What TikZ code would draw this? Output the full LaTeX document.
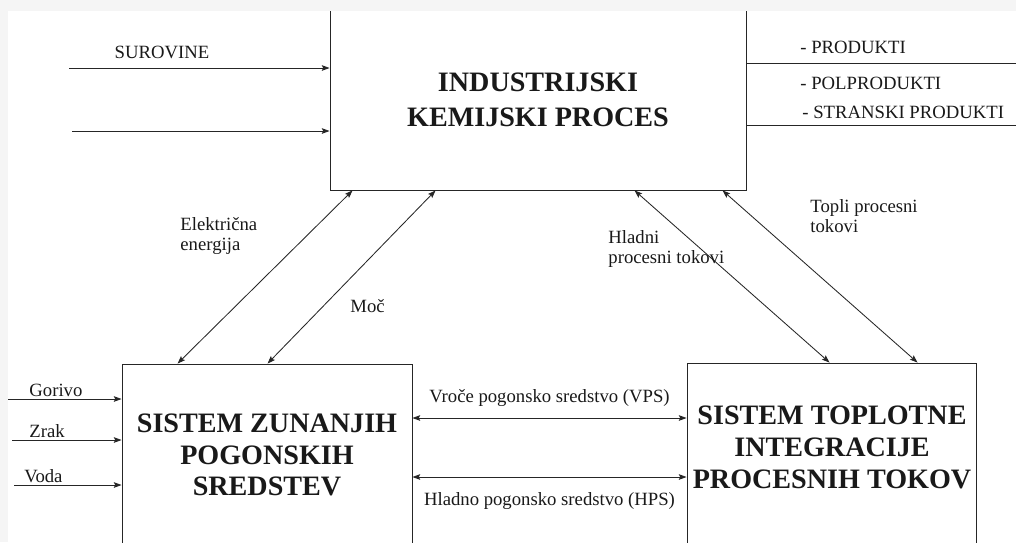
\documentclass[tikz,border=0pt]{standalone}
\usepackage{fontspec}
\setmainfont{Liberation Serif}
\usetikzlibrary{positioning, arrows.meta, calc}

\begin{document}
\begin{tikzpicture}[x=0.025cm, y=-0.025cm, >={Stealth[length=5.5pt,width=4pt,inset=1pt]}, semithick, draw=black!85,
    box/.style={draw, rectangle, inner sep=0pt},
    title/.style={font=\fontsize{20}{22.5}\selectfont\bfseries, align=center, text=black!90},
    lbl/.style={font=\fontsize{13.3}{14}\selectfont, inner sep=0pt, align=left, text=black!90}]

  \useasboundingbox (0,0) rectangle (1016,542);
  \fill[gray!8] (0,0) rectangle (1016,542);
  \fill[white] (8,11) rectangle (1016,542);
  \clip (8,11) rectangle (1016,542);

  % the three systems
  \node[box, minimum width=10.4cm, minimum height=4.5cm] (proc) at (538,100) {};
  \node[box, minimum width=7.25cm, minimum height=4.55cm] (zps) at (267,455) {};
  \node[box, minimum width=7.225cm, minimum height=4.925cm] (sti) at (831.5,461.5) {};

  \node[title, font=\fontsize{20}{24.5}\selectfont\bfseries] (procT) at (538,100) {INDUSTRIJSKI\\KEMIJSKI PROCES};
  \node[title] (zpsT) at (267,455) {SISTEM ZUNANJIH\\POGONSKIH\\SREDSTEV};
  \node[title] (stiT) at (832,447.5) {SISTEM TOPLOTNE\\INTEGRACIJE\\PROCESNIH TOKOV};

  % free ends
  \coordinate (s1) at (69,68);
  \coordinate (s2) at (72,131);
  \coordinate (o1) at (1016,63);
  \coordinate (o2) at (1016,125);
  \coordinate (g) at (8,399);
  \coordinate (z) at (12,440);
  \coordinate (v) at (14,485);
  \coordinate (h1) at (0,418);
  \coordinate (h2) at (0,477);

  \path[->] (s1) edge (s1 -| proc.west)
            (s2) edge (s2 -| proc.west)
            (g) edge (g -| zps.west)
            (z) edge (z -| zps.west)
            (v) edge (v -| zps.west);
  \path (o1 -| proc.east) edge (o1)
        (o2 -| proc.east) edge (o2);

  \path[<->] ($(proc.south west)+(23,0)$) edge ($(zps.north west)+(56,0)$)
             ($(proc.south west)+(106,0)$) edge ($(zps.north west)+(146,0)$)
             ($(proc.south west)+(305,0)$) edge ($(sti.north west)+(143,0)$)
             ($(proc.south west)+(393,0)$) edge ($(sti.north west)+(231,0)$)
             (h1 -| zps.east) edge (h1 -| sti.west)
             (h2 -| zps.east) edge (h2 -| sti.west);

  % labels
  \node[lbl, anchor=base] (surovine) at (162,58) {SUROVINE};
  \node[lbl, anchor=base west] (produkti) at (800,53) {- PRODUKTI};
  \node[lbl, anchor=base west] (polprodukti) at (800,89) {- POLPRODUKTI};
  \node[lbl, anchor=base west] (stranski) at (802,118) {- STRANSKI PRODUKTI};
  \node[lbl, anchor=base west] (gorivo) at (29,396) {Gorivo};
  \node[lbl, anchor=base west] (zrak) at (29,437) {Zrak};
  \node[lbl, anchor=base west] (voda) at (24,482) {Voda};
  \node[lbl, anchor=base west] (elenergija) at (180,250) {Električna\\energija};
  \node[lbl, anchor=base west] (moc) at (350,312) {Moč};
  \node[lbl, anchor=base west] (hladni) at (608,263) {Hladni\\procesni tokovi};
  \node[lbl, anchor=base west] (topli) at (810,232) {Topli procesni\\tokovi};
  \node[lbl, anchor=base] (vps) at (549.5,402) {Vroče pogonsko sredstvo (VPS)};
  \node[lbl, anchor=base] (hps) at (549.5,505) {Hladno pogonsko sredstvo (HPS)};
\end{tikzpicture}
\end{document}
